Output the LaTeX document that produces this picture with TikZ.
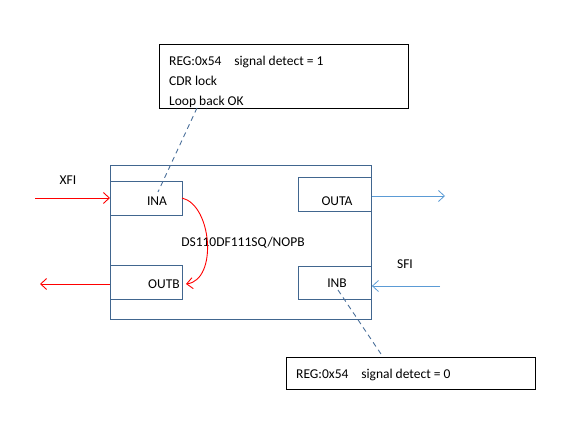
\documentclass[tikz,border=0pt]{standalone}
\usepackage{fontspec}
\setmainfont{Carlito}
\usetikzlibrary{arrows.meta}
\definecolor{boxc}{HTML}{41668F}
\definecolor{dashc}{HTML}{4A6F9A}
\definecolor{bluea}{HTML}{5B9BD5}
\definecolor{reda}{HTML}{FF0000}
\tikzset{
  pbox/.style={draw=boxc, line width=0.9pt, inner sep=0pt},
  nbox/.style={draw=black, line width=0.9pt, inner sep=0pt},
  lbl/.style={font=\fontsize{13.5}{16}\selectfont, inner sep=0pt, anchor=base},
  redarr/.style={draw=reda, line width=0.9pt, -{Straight Barb[length=6pt,width=11pt]}},
  bluearr/.style={draw=bluea, line width=0.8pt, -{Straight Barb[length=6pt,width=11pt]}},
  dashln/.style={draw=dashc, line width=0.9pt, dash pattern=on 5pt off 4pt},
}
\begin{document}
\begin{tikzpicture}[x=1pt,y=-1pt]
\useasboundingbox (0,0) rectangle (570,427);
% main box
\node[pbox, minimum width=261pt, minimum height=154pt, anchor=north west] (main) at (110,165) {};
\node[pbox, minimum width=72pt, minimum height=34pt, anchor=north west] (ina) at (110,181) {};
\node[pbox, minimum width=72pt, minimum height=34pt, anchor=north west] (outb) at (110,265) {};
\node[pbox, minimum width=73pt, minimum height=34pt, anchor=north west] (outa) at (298,177) {};
\node[pbox, minimum width=73pt, minimum height=33pt, anchor=north west] (inb) at (298,266) {};
\node[lbl] (inat) at (157,206) {INA};
\node[lbl] (outbt) at (164,289) {OUTB};
\node[lbl] (outat) at (337,206) {OUTA};
\node[lbl] (inbt) at (337,288) {INB};
\node[lbl] (chip) at (243,247) {DS110DF111SQ/NOPB};
\node[lbl] (xfi) at (68,185) {XFI};
\node[lbl] (sfi) at (405,269) {SFI};
% note boxes
\node[nbox, minimum width=249pt, minimum height=64pt, anchor=north west] (topbox) at (159,44) {};
\node[lbl, anchor=base west] (t1) at (169,66) {REG:0x54\hspace{0.95em}signal detect = 1};
\node[lbl, anchor=base west] (t2) at (169,86) {CDR lock};
\node[lbl, anchor=base west] (t3) at (169,106) {Loop back OK};
\node[nbox, minimum width=249pt, minimum height=32pt, anchor=north west] (botbox) at (286,357) {};
\node[lbl, anchor=base west] (b1) at (296,378) {REG:0x54\hspace{0.95em}signal detect = 0};
% connectors
\coordinate (xfiin) at (35,198);
\coordinate (outbend) at (40,284);
\coordinate (outaend) at (445,196);
\coordinate (inbstart) at (440,286);
\draw[redarr] (xfiin) -- (ina.west |- xfiin);
\draw[redarr] (outb.west |- outbend) -- (outbend);
\draw[bluearr] (outa.east |- outaend) -- (outaend);
\draw[bluearr] (inbstart) -- (inb.east |- inbstart);
\draw[redarr] (182,198) .. controls (212,205) and (218,280) .. (186,284);
\coordinate (d1a) at (197,108);
\coordinate (d1b) at (158,192);
\coordinate (d2a) at (338,290);
\coordinate (d2b) at (383,357);
\draw[dashln] (d1a) -- (d1b);
\draw[dashln] (d2a) -- (d2b);
\end{tikzpicture}
\end{document}
